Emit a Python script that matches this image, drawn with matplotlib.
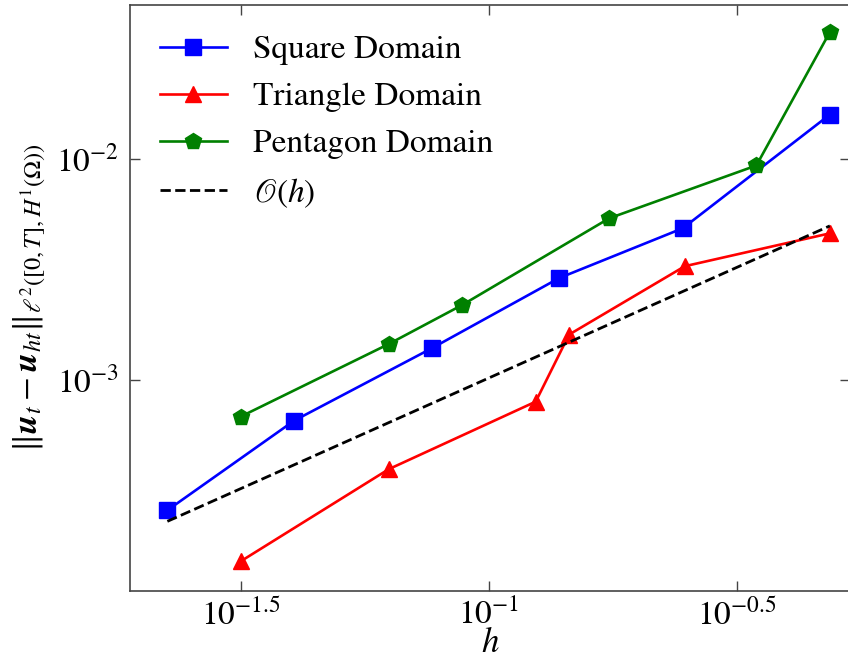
import matplotlib
matplotlib.use("Agg")
import matplotlib.pyplot as plt
from matplotlib.ticker import FixedLocator, FixedFormatter, NullLocator

plt.rcParams['font.family'] = ['STIXGeneral', 'DejaVu Serif']
plt.rcParams['mathtext.fontset'] = 'stix'

square_h = [0.0225, 0.0405, 0.0768, 0.1384, 0.2457, 0.486]
square_err = [2.57e-4, 6.53e-4, 1.39e-3, 2.88e-3, 4.84e-3, 1.58e-2]

tri_h = [0.0316, 0.0628, 0.1242, 0.145, 0.248, 0.486]
tri_err = [1.51e-4, 3.94e-4, 7.96e-4, 1.60e-3, 3.26e-3, 4.59e-3]

pent_h = [0.0316, 0.0628, 0.0884, 0.1747, 0.3456, 0.486]
pent_err = [6.81e-4, 1.45e-3, 2.18e-3, 5.37e-3, 9.30e-3, 3.73e-2]

ref_h = [0.0225, 0.486]
ref_err = [2.29e-4, 4.96e-3]

xticks = [10**-1.5, 10**-1, 10**-0.5]
xticklabels = [r'$10^{-1.5}$', r'$10^{-1}$', r'$10^{-0.5}$']
yticks = [1e-3, 1e-2]
yticklabels = [r'$10^{-3}$', r'$10^{-2}$']

fig = plt.figure(figsize=(8.48, 6.64), dpi=100)
ax = fig.add_axes([130/848, 1 - 591/664, 720/848, 586/664])

ax.loglog(square_h, square_err, '-s', color='blue', lw=1.9, ms=12, label='Square Domain')
ax.loglog(tri_h, tri_err, '-^', color='red', lw=1.9, ms=12, label='Triangle Domain')
ax.loglog(pent_h, pent_err, '-p', color='green', lw=1.9, ms=12, label='Pentagon Domain')
ax.loglog(ref_h, ref_err, '--', color='black', lw=2, label=r'$\mathscr{O}(h)$')

ax.set_xlim(10**-1.7231, 10**-0.2728)
ax.set_ylim(10**-3.955, 10**-1.306)

ax.xaxis.set_major_locator(FixedLocator(xticks))
ax.xaxis.set_major_formatter(FixedFormatter(xticklabels))
ax.xaxis.set_minor_locator(NullLocator())
ax.yaxis.set_major_locator(FixedLocator(yticks))
ax.yaxis.set_major_formatter(FixedFormatter(yticklabels))
ax.yaxis.set_minor_locator(NullLocator())

ax.tick_params(which='both', direction='in', top=True, right=True, labelsize=24,
               length=7, width=1, color='#444444', pad=8)
ax.tick_params(axis='x', pad=6)
for s in ax.spines.values():
    s.set_color('#444444')
    s.set_linewidth(1.2)

ax.set_xlabel(r'$h$', fontsize=25, labelpad=-3)
ax.set_ylabel(r'$\|\mathbfit{u}_t - \mathbfit{u}_{ht}\|_{\ell^2([0,T],H^1(\Omega))}$', fontsize=25, labelpad=6)

ax.legend(loc='upper left', frameon=False, fontsize=24, handlelength=2.0,
          borderaxespad=0.5)

fig.savefig('out.png', dpi=100)
